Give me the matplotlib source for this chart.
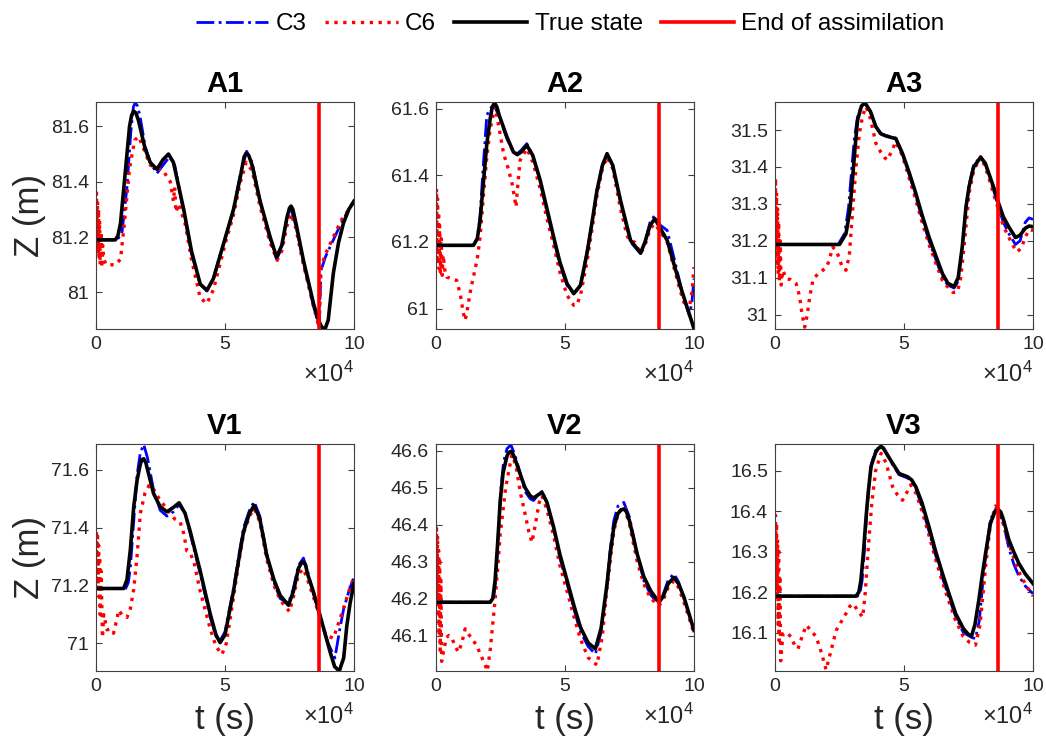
import matplotlib
matplotlib.use("Agg")
import matplotlib.pyplot as plt
from matplotlib.lines import Line2D
from matplotlib.ticker import FixedLocator, FuncFormatter

plt.rcParams['font.family'] = ['Liberation Sans', 'DejaVu Sans']
plt.rcParams['mathtext.fontset'] = 'custom'
plt.rcParams['mathtext.rm'] = 'Liberation Sans'
plt.rcParams['mathtext.it'] = 'Liberation Sans:italic'

T_SCALE = 1e4          # times below are in units of 1e4 s
T_END_ASSIM = 8.64     # end of assimilation (x 1e4 s)

panel_names = ['A1', 'A2', 'A3', 'V1', 'V2', 'V3']

# ---------------- A1 ----------------
a1_true_t = [0, 0.75, 0.85, 0.95, 1.15, 1.3, 1.38, 1.46, 1.55, 1.65, 1.9, 2.1, 2.36, 2.6, 2.81, 3.0, 3.4, 3.7, 4.04, 4.3, 4.55, 4.8, 5.05, 5.33, 5.6, 5.74, 5.82, 5.92, 6.05, 6.36, 6.75, 7.0, 7.2, 7.4, 7.5, 7.56, 7.63, 7.75, 8.04, 8.43, 8.62, 8.75, 8.88, 9.0, 9.2, 9.4, 9.59, 9.8, 10]
a1_true_z = [81.19, 81.19, 81.205, 81.25, 81.45, 81.60, 81.64, 81.655, 81.648, 81.62, 81.52, 81.47, 81.445, 81.48, 81.50, 81.47, 81.30, 81.15, 81.03, 81.008, 81.05, 81.13, 81.21, 81.30, 81.42, 81.49, 81.503, 81.495, 81.46, 81.33, 81.20, 81.128, 81.17, 81.27, 81.305, 81.312, 81.30, 81.25, 81.116, 80.96, 80.90, 80.875, 80.868, 80.90, 81.07, 81.18, 81.25, 81.30, 81.33]
a1_c3_t = [0, 0.8, 1.0, 1.2, 1.35, 1.45, 1.52, 1.6, 1.7, 1.9, 2.1, 2.36, 2.6, 2.85, 3.05, 3.4, 3.7, 4.04, 4.3, 4.55, 4.8, 5.05, 5.33, 5.6, 5.84, 6.05, 6.36, 6.75, 7.0, 7.2, 7.4, 7.56, 7.75, 8.04, 8.43, 8.6, 8.65, 8.72, 8.9, 9.2, 9.5, 9.8, 10]
a1_c3_z = [81.19, 81.19, 81.21, 81.38, 81.58, 81.67, 81.685, 81.675, 81.64, 81.53, 81.47, 81.43, 81.46, 81.49, 81.46, 81.29, 81.14, 81.03, 81.005, 81.05, 81.13, 81.21, 81.30, 81.43, 81.51, 81.47, 81.33, 81.19, 81.12, 81.16, 81.27, 81.30, 81.24, 81.11, 80.95, 80.89, 80.88, 81.08, 81.13, 81.19, 81.25, 81.30, 81.33]
a1_c6_t = [0, 0.02, 0.04, 0.06, 0.08, 0.10, 0.12, 0.14, 0.16, 0.19, 0.22, 0.26, 0.3, 0.4, 0.55, 0.75, 0.95, 1.1, 1.3, 1.5, 1.65, 1.8, 2.1, 2.35, 2.6, 2.88, 3.0, 3.05, 3.1, 3.2, 3.45, 3.7, 4.04, 4.3, 4.55, 4.8, 5.05, 5.33, 5.6, 5.82, 6.05, 6.36, 6.75, 7.02, 7.2, 7.4, 7.56, 7.75, 8.04, 8.43, 8.6, 8.65, 8.72, 8.9, 9.2, 9.5, 9.8, 10]
a1_c6_z = [81.19, 81.36, 81.16, 81.33, 81.14, 81.30, 81.12, 81.26, 81.10, 81.22, 81.09, 81.17, 81.12, 81.10, 81.10, 81.10, 81.12, 81.25, 81.45, 81.55, 81.563, 81.53, 81.46, 81.45, 81.44, 81.40, 81.33, 81.38, 81.29, 81.32, 81.25, 81.12, 80.98, 80.96, 81.01, 81.10, 81.19, 81.28, 81.40, 81.47, 81.44, 81.31, 81.18, 81.116, 81.15, 81.24, 81.284, 81.23, 81.10, 80.95, 80.89, 80.88, 81.09, 81.14, 81.20, 81.26, 81.30, 81.33]

# ---------------- A2 ----------------
a2_true_t = [0, 1.45, 1.6, 1.71, 1.85, 1.97, 2.1, 2.18, 2.27, 2.36, 2.45, 2.75, 3.0, 3.15, 3.3, 3.52, 3.75, 4.04, 4.3, 4.56, 4.8, 5.08, 5.34, 5.6, 5.85, 6.05, 6.24, 6.45, 6.63, 6.85, 7.15, 7.54, 7.93, 8.1, 8.3, 8.48, 8.7, 8.96, 9.2, 9.48, 9.75, 10]
a2_true_z = [61.19, 61.19, 61.21, 61.265, 61.39, 61.495, 61.57, 61.605, 61.617, 61.605, 61.58, 61.515, 61.47, 61.462, 61.47, 61.49, 61.46, 61.385, 61.30, 61.215, 61.14, 61.075, 61.045, 61.07, 61.165, 61.26, 61.355, 61.43, 61.465, 61.43, 61.325, 61.205, 61.167, 61.20, 61.25, 61.27, 61.24, 61.205, 61.14, 61.065, 61.00, 60.94]
a2_c3_t = [0, 1.45, 1.6, 1.71, 1.85, 1.97, 2.1, 2.25, 2.45, 2.75, 3.0, 3.15, 3.3, 3.52, 3.75, 4.04, 4.3, 4.56, 4.8, 5.08, 5.34, 5.6, 5.85, 6.05, 6.24, 6.45, 6.63, 6.85, 7.15, 7.54, 7.93, 8.1, 8.3, 8.48, 8.7, 8.96, 9.2, 9.48, 9.65, 9.82, 9.92, 10]
a2_c3_z = [61.19, 61.19, 61.21, 61.28, 61.45, 61.58, 61.60, 61.612, 61.575, 61.51, 61.47, 61.465, 61.475, 61.495, 61.46, 61.38, 61.29, 61.21, 61.13, 61.07, 61.045, 61.07, 61.17, 61.26, 61.355, 61.43, 61.465, 61.43, 61.32, 61.20, 61.165, 61.20, 61.26, 61.28, 61.25, 61.235, 61.16, 61.07, 61.02, 60.98, 61.02, 61.09]
a2_c6_t = [0, 0.02, 0.04, 0.06, 0.08, 0.10, 0.12, 0.14, 0.17, 0.2, 0.24, 0.28, 0.35, 0.41, 0.6, 0.8, 0.95, 1.05, 1.13, 1.22, 1.35, 1.45, 1.6, 1.71, 1.85, 1.97, 2.1, 2.29, 2.45, 2.62, 2.8, 2.95, 3.05, 3.1, 3.18, 3.26, 3.52, 3.75, 4.04, 4.3, 4.56, 4.8, 5.08, 5.34, 5.45, 5.6, 5.85, 6.05, 6.24, 6.45, 6.63, 6.85, 7.15, 7.4, 7.54, 7.7, 7.93, 8.1, 8.3, 8.48, 8.7, 8.96, 9.2, 9.48, 9.65, 9.8, 9.92, 10]
a2_c6_z = [61.19, 61.36, 61.15, 61.33, 61.13, 61.29, 61.12, 61.25, 61.11, 61.21, 61.10, 61.16, 61.11, 61.095, 61.09, 61.085, 61.04, 60.99, 60.965, 61.00, 61.06, 61.095, 61.15, 61.215, 61.35, 61.455, 61.54, 61.605, 61.54, 61.465, 61.42, 61.375, 61.33, 61.305, 61.38, 61.445, 61.48, 61.44, 61.36, 61.27, 61.19, 61.11, 61.04, 61.01, 61.01, 61.04, 61.14, 61.24, 61.34, 61.42, 61.455, 61.42, 61.30, 61.22, 61.20, 61.20, 61.165, 61.19, 61.24, 61.255, 61.23, 61.20, 61.13, 61.05, 61.01, 60.995, 61.05, 61.125]

# ---------------- A3 ----------------
a3_true_t = [0, 2.5, 2.75, 2.9, 3.01, 3.1, 3.2, 3.35, 3.49, 3.7, 3.91, 4.1, 4.3, 4.5, 4.68, 4.94, 5.2, 5.46, 5.7, 5.97, 6.23, 6.49, 6.7, 6.94, 7.1, 7.26, 7.4, 7.52, 7.7, 7.97, 8.15, 8.29, 8.5, 8.67, 8.85, 9.06, 9.32, 9.5, 9.7, 9.85, 10]
a3_true_z = [31.19, 31.19, 31.219, 31.28, 31.373, 31.45, 31.527, 31.565, 31.574, 31.55, 31.509, 31.49, 31.484, 31.48, 31.477, 31.437, 31.385, 31.328, 31.27, 31.21, 31.16, 31.111, 31.085, 31.076, 31.10, 31.185, 31.29, 31.346, 31.40, 31.426, 31.41, 31.382, 31.34, 31.301, 31.265, 31.238, 31.209, 31.215, 31.234, 31.24, 31.238]
a3_c3_t = [0, 2.45, 2.7, 2.85, 2.98, 3.08, 3.2, 3.35, 3.49, 3.7, 3.91, 4.1, 4.3, 4.5, 4.68, 4.94, 5.2, 5.46, 5.7, 5.97, 6.23, 6.49, 6.7, 6.94, 7.1, 7.26, 7.4, 7.52, 7.7, 7.97, 8.15, 8.29, 8.5, 8.67, 8.85, 9.06, 9.32, 9.5, 9.7, 9.85, 10]
a3_c3_z = [31.19, 31.19, 31.22, 31.29, 31.40, 31.48, 31.535, 31.565, 31.572, 31.55, 31.51, 31.49, 31.485, 31.482, 31.478, 31.435, 31.38, 31.32, 31.26, 31.20, 31.15, 31.10, 31.08, 31.072, 31.09, 31.18, 31.29, 31.35, 31.405, 31.428, 31.41, 31.38, 31.33, 31.29, 31.25, 31.22, 31.19, 31.20, 31.25, 31.262, 31.258]
a3_c6_t = [0, 0.02, 0.04, 0.06, 0.08, 0.10, 0.12, 0.14, 0.17, 0.2, 0.24, 0.3, 0.44, 0.6, 0.82, 0.95, 1.05, 1.15, 1.25, 1.35, 1.47, 1.65, 1.85, 2.0, 2.11, 2.24, 2.4, 2.6, 2.75, 2.88, 3.01, 3.14, 3.27, 3.4, 3.53, 3.7, 3.91, 4.1, 4.25, 4.36, 4.5, 4.68, 4.94, 5.2, 5.46, 5.7, 5.97, 6.23, 6.49, 6.75, 6.9, 7.07, 7.2, 7.35, 7.52, 7.7, 7.97, 8.15, 8.29, 8.5, 8.67, 8.85, 9.06, 9.2, 9.38, 9.55, 9.7, 9.85, 10]
a3_c6_z = [31.19, 31.37, 31.16, 31.33, 31.13, 31.29, 31.11, 31.25, 31.09, 31.20, 31.08, 31.12, 31.097, 31.095, 31.084, 31.05, 31.00, 30.966, 31.00, 31.05, 31.093, 31.11, 31.12, 31.128, 31.15, 31.183, 31.17, 31.13, 31.12, 31.16, 31.283, 31.40, 31.491, 31.54, 31.563, 31.53, 31.464, 31.44, 31.425, 31.419, 31.44, 31.468, 31.43, 31.37, 31.31, 31.25, 31.19, 31.14, 31.093, 31.07, 31.06, 31.061, 31.10, 31.20, 31.328, 31.39, 31.428, 31.40, 31.37, 31.32, 31.283, 31.24, 31.21, 31.19, 31.17, 31.18, 31.21, 31.23, 31.228]

# ---------------- V1 ----------------
v1_true_t = [0, 1.07, 1.2, 1.33, 1.46, 1.59, 1.72, 1.78, 1.85, 1.93, 2.0, 2.23, 2.49, 2.75, 3.0, 3.22, 3.45, 3.65, 4.04, 4.43, 4.65, 4.81, 5.0, 5.33, 5.55, 5.72, 5.95, 6.13, 6.35, 6.62, 6.9, 7.14, 7.46, 7.65, 7.85, 7.96, 8.04, 8.12, 8.2, 8.43, 8.68, 9.07, 9.25, 9.43, 9.6, 9.72, 9.85, 10]
v1_true_z = [71.19, 71.19, 71.22, 71.323, 71.47, 71.563, 71.62, 71.635, 71.638, 71.625, 71.60, 71.518, 71.472, 71.455, 71.47, 71.486, 71.45, 71.388, 71.25, 71.101, 71.03, 71.003, 71.03, 71.181, 71.30, 71.387, 71.45, 71.477, 71.43, 71.304, 71.22, 71.166, 71.132, 71.18, 71.26, 71.278, 71.281, 71.272, 71.24, 71.178, 71.098, 70.972, 70.92, 70.905, 70.95, 71.06, 71.14, 71.208]
v1_c3_t = [0, 1.15, 1.25, 1.33, 1.46, 1.59, 1.72, 1.85, 2.0, 2.23, 2.49, 2.75, 3.0, 3.22, 3.45, 3.65, 4.04, 4.43, 4.65, 4.81, 5.0, 5.33, 5.55, 5.72, 5.95, 6.13, 6.35, 6.62, 6.9, 7.14, 7.46, 7.65, 7.85, 8.04, 8.2, 8.43, 8.68, 9.0, 9.26, 9.45, 9.6, 9.8, 10]
v1_c3_z = [71.19, 71.19, 71.21, 71.26, 71.42, 71.58, 71.66, 71.687, 71.64, 71.53, 71.46, 71.44, 71.455, 71.48, 71.45, 71.38, 71.24, 71.09, 71.025, 71.01, 71.04, 71.19, 71.31, 71.40, 71.46, 71.49, 71.44, 71.31, 71.21, 71.155, 71.14, 71.19, 71.27, 71.295, 71.25, 71.17, 71.09, 71.00, 70.95, 71.05, 71.12, 71.18, 71.23]
v1_c6_t = [0, 0.02, 0.04, 0.06, 0.08, 0.1, 0.12, 0.14, 0.16, 0.2, 0.25, 0.3, 0.43, 0.55, 0.68, 0.8, 0.88, 1.0, 1.2, 1.33, 1.46, 1.59, 1.72, 1.9, 2.05, 2.17, 2.3, 2.49, 2.7, 2.88, 3.05, 3.26, 3.4, 3.52, 3.65, 3.8, 4.04, 4.43, 4.65, 4.88, 5.05, 5.33, 5.55, 5.72, 5.95, 6.13, 6.35, 6.62, 6.9, 7.14, 7.5, 7.65, 7.85, 8.04, 8.2, 8.43, 8.68, 8.9, 9.2, 9.4, 9.59, 9.8, 10]
v1_c6_z = [71.19, 71.39, 71.22, 71.37, 71.20, 71.34, 71.16, 71.30, 71.10, 71.25, 71.02, 71.10, 71.047, 71.05, 71.035, 71.08, 71.115, 71.10, 71.09, 71.12, 71.186, 71.30, 71.45, 71.52, 71.545, 71.546, 71.52, 71.495, 71.47, 71.45, 71.43, 71.42, 71.38, 71.32, 71.313, 71.28, 71.18, 71.05, 70.99, 70.962, 71.00, 71.16, 71.29, 71.38, 71.44, 71.466, 71.42, 71.29, 71.20, 71.15, 71.11, 71.16, 71.24, 71.258, 71.22, 71.16, 71.09, 71.03, 71.018, 71.07, 71.12, 71.18, 71.23]

# ---------------- V2 ----------------
v2_true_t = [0, 2.1, 2.2, 2.29, 2.39, 2.49, 2.6, 2.75, 2.82, 2.9, 2.97, 3.05, 3.26, 3.45, 3.65, 3.78, 3.95, 4.11, 4.3, 4.56, 4.8, 5.08, 5.35, 5.6, 5.9, 6.18, 6.4, 6.63, 6.75, 6.89, 7.05, 7.18, 7.28, 7.38, 7.5, 7.8, 8.05, 8.32, 8.64, 8.8, 9.0, 9.22, 9.4, 9.61, 9.8, 10]
v2_true_z = [46.19, 46.19, 46.20, 46.249, 46.35, 46.465, 46.54, 46.585, 46.595, 46.598, 46.593, 46.58, 46.537, 46.50, 46.478, 46.472, 46.48, 46.487, 46.46, 46.393, 46.32, 46.249, 46.18, 46.122, 46.08, 46.064, 46.12, 46.24, 46.32, 46.393, 46.43, 46.44, 46.442, 46.435, 46.41, 46.32, 46.26, 46.221, 46.19, 46.205, 46.24, 46.257, 46.24, 46.204, 46.16, 46.114]
v2_c3_t = [0, 2.15, 2.25, 2.33, 2.42, 2.52, 2.62, 2.75, 2.9, 3.05, 3.26, 3.45, 3.65, 3.78, 3.95, 4.11, 4.3, 4.56, 4.8, 5.08, 5.35, 5.6, 5.9, 6.18, 6.4, 6.63, 6.75, 6.89, 7.05, 7.28, 7.5, 7.8, 8.05, 8.32, 8.64, 8.8, 9.0, 9.22, 9.4, 9.61, 9.8, 10]
v2_c3_z = [46.19, 46.19, 46.21, 46.26, 46.38, 46.50, 46.57, 46.605, 46.616, 46.59, 46.54, 46.49, 46.47, 46.465, 46.48, 46.49, 46.46, 46.39, 46.31, 46.24, 46.17, 46.11, 46.07, 46.05, 46.11, 46.24, 46.33, 46.41, 46.45, 46.46, 46.42, 46.32, 46.25, 46.21, 46.185, 46.21, 46.25, 46.267, 46.245, 46.20, 46.16, 46.11]
v2_c6_t = [0, 0.02, 0.04, 0.06, 0.08, 0.1, 0.12, 0.14, 0.16, 0.19, 0.22, 0.3, 0.41, 0.5, 0.61, 0.75, 0.87, 1.0, 1.13, 1.3, 1.45, 1.6, 1.71, 1.85, 1.99, 2.1, 2.29, 2.4, 2.49, 2.7, 2.94, 3.1, 3.26, 3.45, 3.6, 3.72, 3.85, 4.0, 4.11, 4.3, 4.56, 4.8, 5.08, 5.35, 5.6, 5.9, 6.24, 6.45, 6.63, 6.89, 7.05, 7.28, 7.5, 7.8, 8.05, 8.32, 8.64, 8.8, 9.0, 9.22, 9.4, 9.61, 9.8, 10]
v2_c6_z = [46.19, 46.39, 46.20, 46.37, 46.15, 46.33, 46.10, 46.31, 46.06, 46.25, 46.03, 46.06, 46.095, 46.10, 46.094, 46.07, 46.055, 46.08, 46.118, 46.10, 46.086, 46.07, 46.05, 46.03, 46.004, 46.06, 46.195, 46.29, 46.375, 46.50, 46.589, 46.56, 46.49, 46.43, 46.38, 46.352, 46.40, 46.46, 46.478, 46.44, 46.37, 46.29, 46.22, 46.15, 46.09, 46.04, 46.02, 46.10, 46.23, 46.38, 46.43, 46.451, 46.40, 46.30, 46.24, 46.20, 46.181, 46.195, 46.23, 46.248, 46.23, 46.19, 46.15, 46.105]

# ---------------- V3 ----------------
v3_true_t = [0, 3.14, 3.25, 3.33, 3.43, 3.53, 3.62, 3.72, 3.9, 4.0, 4.11, 4.2, 4.3, 4.56, 4.81, 5.14, 5.3, 5.46, 5.7, 5.97, 6.23, 6.49, 6.75, 7.0, 7.3, 7.5, 7.62, 7.75, 7.9, 8.03, 8.16, 8.35, 8.52, 8.64, 8.75, 8.85, 9.06, 9.25, 9.45, 9.7, 10]
v3_true_z = [16.19, 16.19, 16.20, 16.229, 16.30, 16.386, 16.45, 16.51, 16.545, 16.555, 16.559, 16.556, 16.545, 16.518, 16.493, 16.485, 16.477, 16.46, 16.42, 16.361, 16.30, 16.246, 16.195, 16.147, 16.11, 16.095, 16.092, 16.12, 16.18, 16.24, 16.295, 16.37, 16.398, 16.405, 16.398, 16.38, 16.33, 16.30, 16.271, 16.245, 16.221]
v3_c3_t = [0, 3.2, 3.3, 3.38, 3.47, 3.56, 3.65, 3.75, 3.9, 4.11, 4.3, 4.56, 4.81, 5.14, 5.3, 5.46, 5.7, 5.97, 6.23, 6.49, 6.75, 7.0, 7.3, 7.62, 7.77, 7.92, 8.05, 8.18, 8.35, 8.6, 8.85, 9.06, 9.25, 9.45, 9.7, 10]
v3_c3_z = [16.19, 16.19, 16.20, 16.23, 16.31, 16.40, 16.47, 16.52, 16.55, 16.562, 16.545, 16.515, 16.49, 16.482, 16.472, 16.455, 16.41, 16.35, 16.29, 16.235, 16.185, 16.14, 16.10, 16.088, 16.085, 16.13, 16.22, 16.30, 16.38, 16.41, 16.37, 16.31, 16.27, 16.24, 16.215, 16.196]
v3_c6_t = [0, 0.02, 0.04, 0.06, 0.08, 0.1, 0.12, 0.14, 0.16, 0.19, 0.22, 0.31, 0.45, 0.63, 0.75, 0.89, 1.05, 1.21, 1.4, 1.6, 1.8, 1.98, 2.15, 2.37, 2.55, 2.75, 2.9, 3.04, 3.2, 3.4, 3.5, 3.59, 3.75, 3.9, 4.11, 4.3, 4.56, 4.75, 4.94, 5.1, 5.26, 5.46, 5.7, 5.97, 6.23, 6.49, 6.75, 7.0, 7.3, 7.55, 7.77, 7.95, 8.16, 8.35, 8.55, 8.75, 9.06, 9.45, 9.7, 10]
v3_c6_z = [16.19, 16.39, 16.22, 16.37, 16.18, 16.33, 16.12, 16.31, 16.08, 16.24, 16.03, 16.097, 16.10, 16.089, 16.07, 16.06, 16.09, 16.118, 16.105, 16.089, 16.05, 16.008, 16.05, 16.105, 16.125, 16.147, 16.165, 16.171, 16.155, 16.138, 16.20, 16.287, 16.42, 16.50, 16.543, 16.52, 16.46, 16.44, 16.427, 16.445, 16.465, 16.445, 16.40, 16.34, 16.28, 16.225, 16.175, 16.13, 16.09, 16.075, 16.069, 16.12, 16.26, 16.37, 16.413, 16.39, 16.32, 16.25, 16.22, 16.19]

# axis ranges and y ticks per panel
y_limits = [(80.868, 81.688), (60.939, 61.620), (30.961, 31.576),
            (70.905, 71.689), (46.004, 46.618), (16.005, 16.566)]
y_ticks = [[81, 81.2, 81.4, 81.6], [61, 61.2, 61.4, 61.6],
           [31, 31.1, 31.2, 31.3, 31.4, 31.5], [71, 71.2, 71.4, 71.6],
           [46.1, 46.2, 46.3, 46.4, 46.5, 46.6], [16.1, 16.2, 16.3, 16.4, 16.5]]
x_ticks = [0, 5, 10]

series = [
    (a1_c3_t, a1_c3_z, a1_c6_t, a1_c6_z, a1_true_t, a1_true_z),
    (a2_c3_t, a2_c3_z, a2_c6_t, a2_c6_z, a2_true_t, a2_true_z),
    (a3_c3_t, a3_c3_z, a3_c6_t, a3_c6_z, a3_true_t, a3_true_z),
    (v1_c3_t, v1_c3_z, v1_c6_t, v1_c6_z, v1_true_t, v1_true_z),
    (v2_c3_t, v2_c3_z, v2_c6_t, v2_c6_z, v2_true_t, v2_true_z),
    (v3_c3_t, v3_c3_z, v3_c6_t, v3_c6_z, v3_true_t, v3_true_z),
]

W, H = 1046, 740
fig = plt.figure(figsize=(W / 100, H / 100), dpi=100)

col_left = [96, 436, 775]
ax_w = 258
row_top = [102, 444]
ax_h = 227
txt_col = '#262626'

def sc(ts):
    return [t * T_SCALE for t in ts]

for i, name in enumerate(panel_names):
    r, c = divmod(i, 3)
    left = col_left[c] / W
    bottom = 1 - (row_top[r] + ax_h) / H
    ax = fig.add_axes([left, bottom, ax_w / W, ax_h / H])
    c3t, c3z, c6t, c6z, trt, trz = series[i]
    ax.plot(sc(c3t), c3z, color='#0000ff', linestyle='-.', linewidth=2.0)
    ax.plot(sc(c6t), c6z, color='#ff0000', linestyle=':', linewidth=2.4)
    ax.plot(sc(trt), trz, color='black', linestyle='-', linewidth=2.6)
    ax.axvline(T_END_ASSIM * T_SCALE, color='#ff0000', linewidth=2.6)
    ax.set_xlim(0, 10 * T_SCALE)
    ax.set_ylim(*y_limits[i])
    ax.xaxis.set_major_locator(FixedLocator([x * T_SCALE for x in x_ticks]))
    ax.xaxis.set_major_formatter(FuncFormatter(lambda v, p: '%g' % (v / T_SCALE)))
    ax.yaxis.set_major_locator(FixedLocator(y_ticks[i]))
    ax.yaxis.set_major_formatter(FuncFormatter(lambda v, p: '%g' % v))
    ax.tick_params(direction='in', length=4, width=0.8, top=True, right=True,
                   labelsize=14, colors='#404040', labelcolor=txt_col, pad=5)
    for s in ax.spines.values():
        s.set_color('#404040')
        s.set_linewidth(0.8)
    ax.set_title(name, fontsize=21, fontweight='bold', pad=7)
    ax.text(1.0, -0.2, r'$\times\mathregular{10^4}$', transform=ax.transAxes,
            ha='right', va='center', fontsize=17, color=txt_col)
    if c == 0:
        fig.text(30 / W, 1 - (row_top[r] + ax_h / 2) / H, 'Z (m)', rotation=90,
                 ha='center', va='center', fontsize=25, color=txt_col)
    if r == 1:
        fig.text((col_left[c] + ax_w / 2) / W, 1 - 719 / H, 't (s)',
                 ha='center', va='center', fontsize=25, color=txt_col)

handles = [
    Line2D([], [], color='#0000ff', linestyle='-.', linewidth=2.0),
    Line2D([], [], color='#ff0000', linestyle=':', linewidth=2.4),
    Line2D([], [], color='black', linestyle='-', linewidth=2.6),
    Line2D([], [], color='#ff0000', linestyle='-', linewidth=2.6),
]
labels = ['C3', 'C6', 'True state', 'End of assimilation']
leg = fig.legend(handles, labels, loc='center', bbox_to_anchor=(570 / W, 1 - 24 / H),
                 ncol=4, frameon=False, fontsize=17.5, handlelength=3.0,
                 handletextpad=0.3, columnspacing=0.75)
for t in leg.get_texts():
    t.set_color('black')

fig.savefig('out.png', dpi=100)
